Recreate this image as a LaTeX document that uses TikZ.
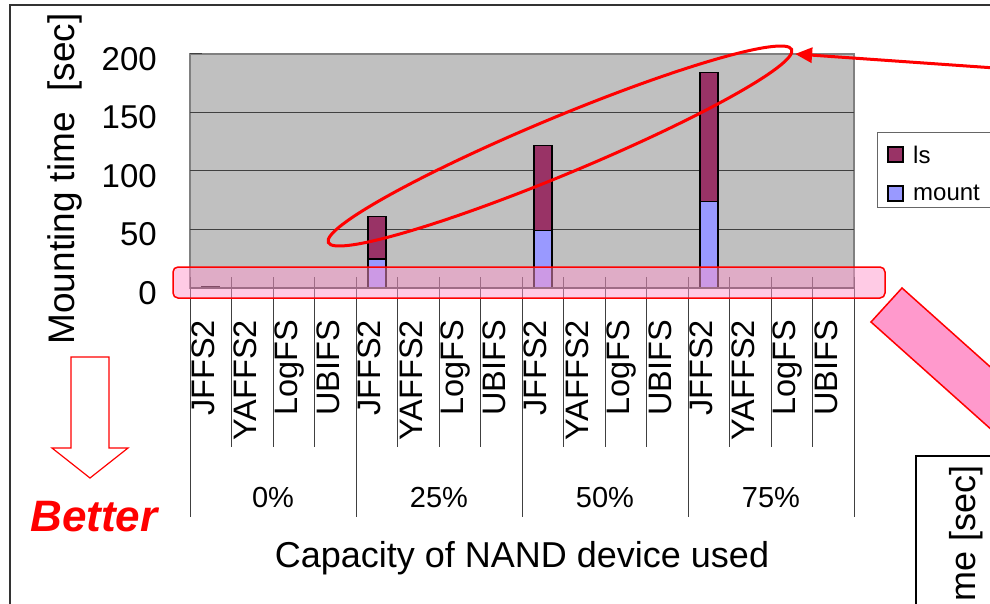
\documentclass[tikz,border=0pt]{standalone}
\usepackage{fontspec}
\setmainfont{Liberation Sans}
\usepackage{tikz}
\usetikzlibrary{shapes.geometric,arrows.meta}

\definecolor{lscol}{HTML}{993366}
\definecolor{mountcol}{HTML}{9999FF}
\definecolor{plotgray}{HTML}{C0C0C0}
\definecolor{hlpink}{HTML}{FF99CC}

\begin{document}
\begin{tikzpicture}[x=1pt, y=-1pt,
  frame/.style = {draw = black!80, line width = 1.5pt},
  grid/.style = {draw = black!75, line width = 1pt},
  lsbar/.style = {fill = lscol, draw = black, line width = 1.5pt},
  mountbar/.style = {fill = mountcol, draw = black, line width = 1.5pt},
  cat/.style = {font = \fontsize{32.5}{34}\selectfont, rotate = 90, anchor = base east, inner sep = 0},
  tick/.style = {font = \fontsize{33}{36}\selectfont, anchor = east, inner sep = 0},
  band/.style = {draw = red, line width = 1.5pt, fill = hlpink, fill opacity = 0.5, rounded corners = 5pt, minimum width = 712pt, minimum height = 31pt},
  ring/.style = {ellipse, draw = red, line width = 3pt, inner sep = 0, minimum width = 502pt, minimum height = 57pt, rotate = 22.6}
]
\useasboundingbox (0,0) rectangle (990,604);
\clip (0,0) rectangle (990,604);
\fill [white] (0,0) rectangle (990,604);

\draw [frame] (1000,5) -- (10,5) -- (10,614);

% plot area
\draw [fill = plotgray, draw = black!50, line width = 1.5pt] (190,54) rectangle (854,288);
\foreach \v in {50,100,150} \draw [grid] (190,{288-1.17*\v}) -- (854,{288-1.17*\v});
\foreach \v in {0,50,...,200} {
  \draw [grid] (190,{288-1.17*\v}) -- (202,{288-1.17*\v});
  \node [tick] (tick\v) at (157,{293-1.17*\v}) {\v};
}

\draw [lsbar, line width = 1pt] (201.75,288) rectangle (219.75,286.5);
\foreach \c/\m/\t in {376.75/25/61, 542.75/49/122, 708.75/74/184} {
  \draw [mountbar] ({\c-9},288) rectangle ({\c+9},{288-1.17*\m});
  \draw [lsbar] ({\c-9},{288-1.17*\m}) rectangle ({\c+9},{288-1.17*\t});
}
\draw [grid, line width = 1.5pt] (190,288) -- (854,288);

% category axis
\foreach \g [count = \j from 0] in {0\%, 25\%, 50\%, 75\%} {
  \draw [grid] ({190+166*\j},277) -- ({190+166*\j},517);
  \foreach \k in {1,2,3} \draw [grid] ({190+166*\j+41.5*\k},277) -- ({190+166*\j+41.5*\k},447);
  \foreach \f [count = \k from 0] in {JFFS2, YAFFS2, LogFS, UBIFS}
    \node [cat] (cat-\j-\k) at ({202.75+166*\j+41.5*\k+12},320) {\f};
  \node [font = \fontsize{29}{31}\selectfont] (grp-\j) at ({273+166*\j},498) {\g};
}
\draw [grid] (854,277) -- (854,517);

\node [font = \fontsize{37}{40}\selectfont, rotate = 90, inner sep = 0] (ytitle) at (65,179) {Mounting time\hspace{0.55em}[sec]};
\node [font = \fontsize{36}{38}\selectfont, inner sep = 0] (xtitle) at (522,558) {Capacity of NAND device used};

% legend
\draw [draw = black!60, line width = 1pt] (877,133) rectangle (1000,208);
\draw [lsbar] (888,147) rectangle (903,162);
\draw [mountbar] (888,186) rectangle (903,201);
\node [font = \fontsize{24}{26}\selectfont, anchor = west, inner sep = 0] (leg-ls) at (913,155) {ls};
\node [font = \fontsize{24}{26}\selectfont, anchor = west, inner sep = 0] (leg-mount) at (913,193) {mount};

% marks
\draw [red, line width = 1.2pt] (71,357) -- (109,357) -- (109,448) -- (128,448) -- (90,478) -- (52,448) -- (71,448) -- cycle;
\node [text = red, font = \fontsize{44}{46}\selectfont\bfseries\itshape, inner sep = 0] (better) at (94,517) {Better};

\node [band] (zero) at (529,282.5) {};
\node [ring] (growth) at (560,146) {};
\coordinate (from) at (995,68);
\draw [red, line width = 3pt, -{Triangle[length = 17pt, width = 15pt]}] (from) -- ([xshift = 2pt, yshift = -5pt]growth.east);

\draw [fill = hlpink, draw = red, line width = 1.5pt] (902,288) -- (1125.5,487.8) -- (1094.5,521.8) -- (871,322) -- cycle;

\draw [frame, draw = black] (916,700) -- (916,456) -- (1100,456);
\node [font = \fontsize{36}{38}\selectfont, rotate = 90, anchor = base east, inner sep = 0] (cut-title) at (975,465) {me [sec]};

\end{tikzpicture}
\end{document}
